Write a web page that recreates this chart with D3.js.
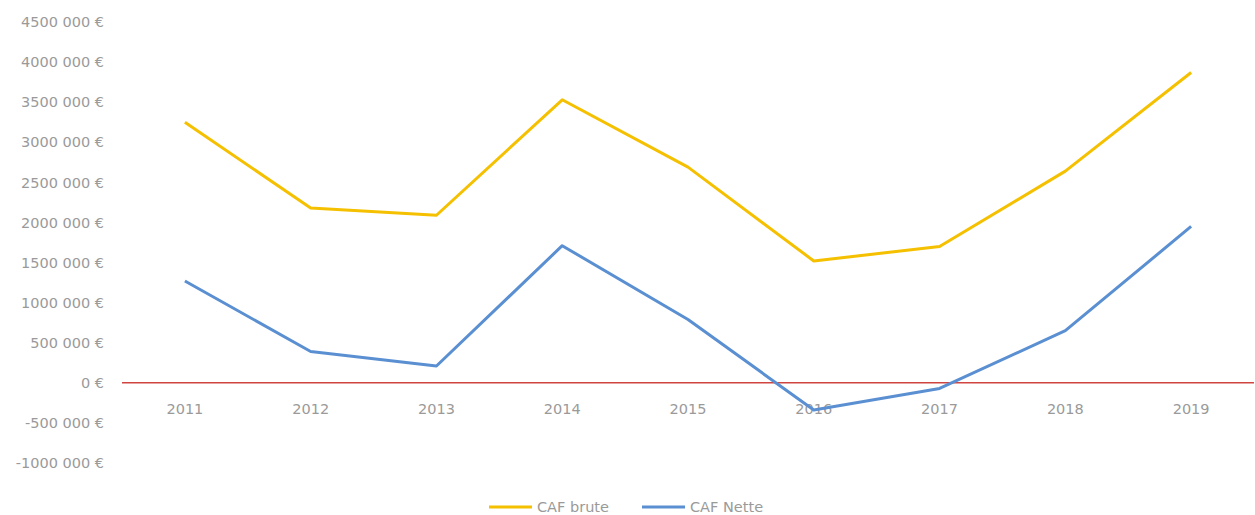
<!DOCTYPE html>
<html>
  <head>
  <title>CAF brute / CAF Nette</title>
  <style>
    body, html {
      margin: 0;
      padding: 0;
      background: #fff;
    }
    text {
      font-family: "DejaVu Sans", sans-serif;
    }
  </style>
  </head>
  <body>
    <svg id="svg" width="1255" height="515"></svg>
  <script src="https://cdn.jsdelivr.net/npm/d3@7"></script>
  <script>
    const years = ["2011", "2012", "2013", "2014", "2015", "2016", "2017", "2018", "2019"]
    const cafBrute = [3250000, 2180000, 2090000, 3530000, 2690000, 1520000, 1700000, 2640000, 3870000]
    const cafNette = [1270000, 390000, 210000, 1710000, 790000, -340000, -70000, 650000, 1950000]
    const yTicks = [-1000000, -500000, 0, 500000, 1000000, 1500000, 2000000, 2500000, 3000000, 3500000, 4000000, 4500000]
    const seriesNames = ["CAF brute", "CAF Nette"]
    const seriesColors = ["#f5c000", "#5a8fd2"]

    const svg = d3.select('#svg')

    const xScale = d3.scaleBand()
      .domain(years)
      .range([122, 1254])

    const yScale = d3.scaleLinear()
      .domain([-1000000, 4500000])
      .range([463, 22])

    // excel-like "4500 000 €"
    const fmt = v => {
      if (v === 0) return "0 €"
      const k = Math.round(v / 1000)
      return `${k} 000 €`
    }

    const yAxis = svg.append("g")
      .attr("transform", "translate(104, 0)")
      .call(d3.axisLeft(yScale).tickValues(yTicks).tickFormat(fmt).tickSize(0).tickPadding(0))
    yAxis.select(".domain").remove()
    yAxis.selectAll("text")
      .style("font-size", "14.5px")
      .attr("fill", "#9a9a9a")

    // zero line
    svg.append("line")
      .attr("x1", 122)
      .attr("x2", 1254)
      .attr("y1", yScale(0))
      .attr("y2", yScale(0))
      .attr("stroke", "#d0453f")
      .attr("stroke-width", 1.5)

    const xAxis = svg.append("g")
      .attr("transform", `translate(0, ${yScale(0) + 21})`)
      .call(d3.axisBottom(xScale).tickSize(0).tickPadding(0))
    xAxis.select(".domain").remove()
    xAxis.selectAll("text")
      .style("font-size", "14.5px")
      .attr("fill", "#9a9a9a")

    const line = d3.line()
      .x((d, i) => xScale(years[i]) + xScale.bandwidth() / 2)
      .y(d => yScale(d))

    ;[cafBrute, cafNette].forEach((vals, i) => {
      svg.append("path")
        .datum(vals)
        .attr("fill", "none")
        .attr("stroke", seriesColors[i])
        .attr("stroke-width", 3)
        .attr("stroke-linejoin", "round")
        .attr("d", line)
    })

    // legend
    const legend = svg.append("g")
      .attr("transform", "translate(489, 507)")
    const legendX = [0, 153]
    seriesNames.forEach((name, i) => {
      legend.append("line")
        .attr("x1", legendX[i])
        .attr("x2", legendX[i] + 43)
        .attr("y1", 0)
        .attr("y2", 0)
        .attr("stroke", seriesColors[i])
        .attr("stroke-width", 3)
      legend.append("text")
        .attr("x", legendX[i] + 48)
        .attr("y", 5)
        .text(name)
        .style("font-size", "14.5px")
        .attr("fill", "#9a9a9a")
    })
  </script>
  </body>
</html>
